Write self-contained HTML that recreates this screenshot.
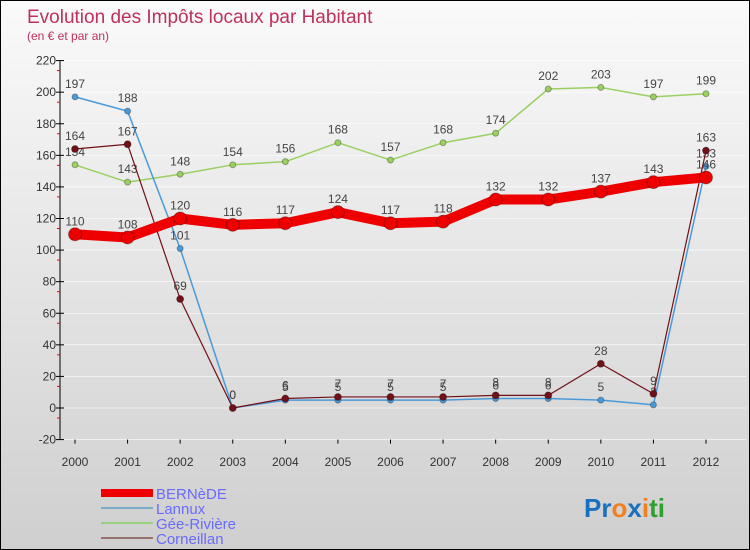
<!DOCTYPE html>
<html><head><meta charset="utf-8"><style>
body{margin:0}
#w{position:relative;width:748px;height:548px;border:1px solid #000;background:linear-gradient(#fafafa,#cfcfcf);font-family:"Liberation Sans",sans-serif;overflow:hidden}
</style></head><body>
<div id="w">
<svg width="748" height="548" id="s">
<text x="26" y="22" font-size="19" fill="#c0305a">Evolution des Impôts locaux par Habitant</text>
<text x="26" y="39" font-size="12" fill="#c0305a">(en € et par an)</text>
<g id="g"></g>
<g>
<line x1="100" y1="492" x2="152" y2="492" stroke="#e00" stroke-width="8"/>
<text x="155" y="498" font-size="15" fill="#6a6aff">BERNèDE</text>
<line x1="100" y1="507" x2="152" y2="507" stroke="#7aaac8" stroke-width="2"/>
<text x="155" y="513" font-size="15" fill="#6a6aff">Lannux</text>
<line x1="100" y1="522" x2="152" y2="522" stroke="#99d080" stroke-width="2"/>
<text x="155" y="528" font-size="15" fill="#6a6aff">Gée-Rivière</text>
<line x1="100" y1="537" x2="152" y2="537" stroke="#997070" stroke-width="2"/>
<text x="155" y="543" font-size="15" fill="#6a6aff">Corneillan</text>
</g>
<text x="583" y="516" font-size="26" font-weight="bold"><tspan fill="#1a70c0">Pr</tspan><tspan fill="#f08020">o</tspan><tspan fill="#1a70c0">x</tspan><tspan fill="#f08020">i</tspan><tspan fill="#30a030">t</tspan><tspan fill="#30a030">i</tspan></text>
</svg>
</div>
<script>
const years=[2000,2001,2002,2003,2004,2005,2006,2007,2008,2009,2010,2011,2012];
const yTicks=[-20,0,20,40,60,80,100,120,140,160,180,200,220];
const bernede=[110,108,120,116,117,124,117,118,132,132,137,143,146];
const lannux=[197,188,101,0,5,5,5,5,6,6,5,2,153];
const gee=[154,143,148,154,156,168,157,168,174,202,203,197,199];
const corneillan=[164,167,69,0,6,7,7,7,8,8,28,9,163];
const NS="http://www.w3.org/2000/svg";
const g=document.getElementById('g');
const X=i=>74+i*(705-74)/12;
const Y=v=>407-v*(379/240);
function el(t,a){const e=document.createElementNS(NS,t);for(const k in a)e.setAttribute(k,a[k]);g.appendChild(e);return e;}
let ax=el('line',{x1:59,y1:Y(220),x2:59,y2:Y(-20),stroke:'#000'});


yTicks.forEach(v=>{
 const y=Y(v);
 let gl=el('line',{x1:59,y1:y,x2:745,y2:y,stroke:'#fff','stroke-width':0.6});
 
 
 let tk=el('line',{x1:55,y1:y,x2:63,y2:y,stroke:'#000'});
 
 
 if(v>-20){
 let mt=el('line',{x1:56,y1:y+10,x2:59,y2:y+10,stroke:'#e00'});
 
 
 }
 let t=el('text',{x:55,y:y+4,'font-size':12,fill:'#333','text-anchor':'end'});t.textContent=v;
 
 
});
years.forEach((yr,i)=>{
 let tk=el('line',{x1:X(i),y1:Y(-20),x2:X(i),y2:Y(-20)+4,stroke:'#000'});
 
 
 let t=el('text',{x:X(i),y:465,'font-size':12,fill:'#333','text-anchor':'middle'});t.textContent=yr;
 
 
});
function series(d,name,col,w,r){
 const p=d.map((v,i)=>X(i)+','+Y(v)).join(' ');
 let l=el('polyline',{points:p,fill:'none',stroke:col,'stroke-width':w,'stroke-linejoin':'round'});
 
 
 d.forEach((v,i)=>{
  let c=el('circle',{cx:X(i),cy:Y(v),r:r,fill:col,stroke:'rgba(0,0,0,0.3)'});
  
  
  let t=el('text',{x:X(i),y:Y(v)-9,'font-size':12,fill:'#444','text-anchor':'middle'});t.textContent=v;
  
  
 });
}
series(gee,'gee-riviere','#99d060',1.5,3);
series(lannux,'lannux','#4a9ad8',1.5,3);
series(corneillan,'corneillan','#701018',1.2,3.5);
series(bernede,'bernede','#ee0000',10,6.5);
</script>
</body></html>
